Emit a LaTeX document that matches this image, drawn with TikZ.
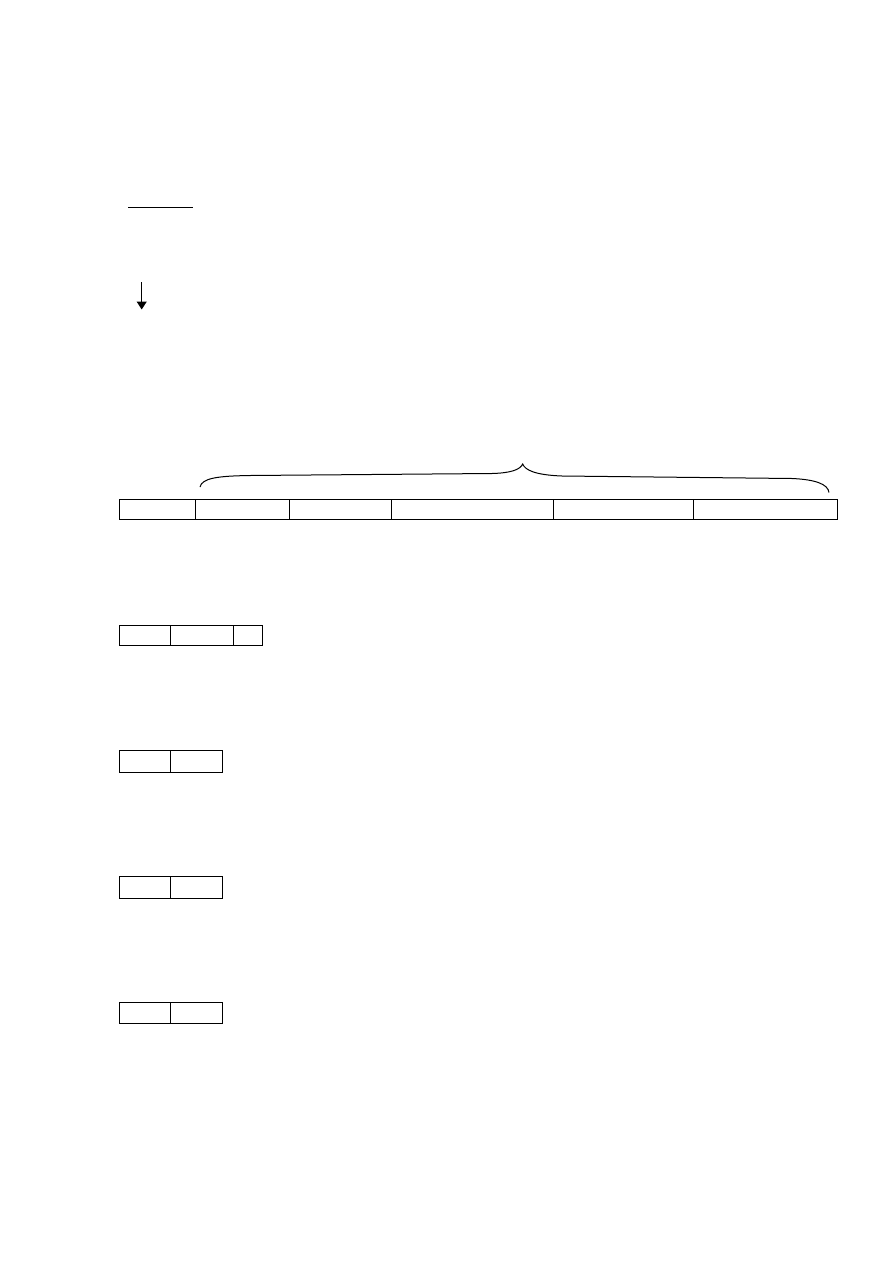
\documentclass[tikz,border=0pt]{standalone}
\usetikzlibrary{arrows.meta}
\begin{document}
\begin{tikzpicture}[x=0.75pt,y=-0.75pt,line width=0.75pt,
  cell/.style={draw,rectangle,inner sep=0pt,outer sep=0pt,anchor=north west,minimum height=#1},
  cell/.default=15.5pt]
\useasboundingbox (0,0) rectangle (893,1263);
% top line
\coordinate (l1) at (128,207);
\coordinate (l2) at (193,207);
\draw (l1) -- (l2);
% arrow
\coordinate (arrtop) at (141.7,282);
\coordinate (arrbot) at (141.7,309.5);
\draw[-{Triangle[width=7.5pt,length=6pt]}] (arrtop) -- (arrbot);
% brace
\coordinate (bl) at (200,487);
\coordinate (bt) at (522.7,464);
\coordinate (br) at (829,492.5);
\draw (bl) .. controls (202,478) and (218,476) .. (250,475.5) -- (492,473.5)
  .. controls (510,473) and (520,470) .. (bt)
  .. controls (525,470) and (535,475) .. (562,476) -- (792,478.5)
  .. controls (815,479.5) and (828,484) .. (br);
% main row
\node[cell=15.5pt,minimum width=76.4*0.75pt] (m1) at (119.3,499.3) {};
\node[cell=15.5pt,minimum width=94*0.75pt] (m2) at (m1.north east) {};
\node[cell=15.5pt,minimum width=102*0.75pt] (m3) at (m2.north east) {};
\node[cell=15.5pt,minimum width=161.6*0.75pt] (m4) at (m3.north east) {};
\node[cell=15.5pt,minimum width=140*0.75pt] (m5) at (m4.north east) {};
\node[cell=15.5pt,minimum width=144.4*0.75pt] (m6) at (m5.north east) {};
% row 2
\node[cell=15.5pt,minimum width=51*0.75pt] (r2a) at (119.3,625.3) {};
\node[cell=15.5pt,minimum width=63*0.75pt] (r2b) at (r2a.north east) {};
\node[cell=15.5pt,minimum width=29*0.75pt] (r2c) at (r2b.north east) {};
% row 3
\node[cell=16.5pt,minimum width=51*0.75pt] (r3a) at (119.3,750.3) {};
\node[cell=16.5pt,minimum width=52*0.75pt] (r3b) at (r3a.north east) {};
% row 4
\node[cell=16.5pt,minimum width=51*0.75pt] (r4a) at (119.3,876.3) {};
\node[cell=16.5pt,minimum width=52*0.75pt] (r4b) at (r4a.north east) {};
% row 5
\node[cell=15.8pt,minimum width=51*0.75pt] (r5a) at (119.3,1002.3) {};
\node[cell=15.8pt,minimum width=52*0.75pt] (r5b) at (r5a.north east) {};
\end{tikzpicture}
\end{document}
